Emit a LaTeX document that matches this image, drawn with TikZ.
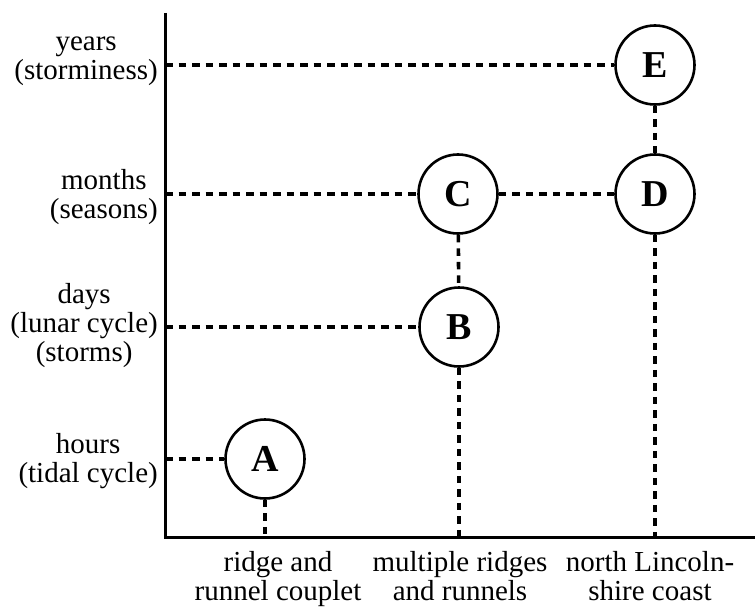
\documentclass[tikz,border=0pt]{standalone}
\usepackage{fontspec}
\setmainfont{Liberation Serif}
\usetikzlibrary{positioning}

\begin{document}
\begin{tikzpicture}[x=1pt,y=-1pt,
  site/.style={circle,draw,line width=2.6pt,minimum size=79pt,inner sep=0pt,font=\fontsize{38}{38}\selectfont\bfseries},
  link/.style={line width=3.6pt,dash pattern=on 7.5pt off 6pt},
  scale lab/.style={align=center,inner sep=0pt,font=\fontsize{29}{29}\selectfont}]
  \useasboundingbox (0,0) rectangle (755,610);
  \draw[line width=3pt] (165,13) -- (165,537) -- (755,537);
  \node[site] (E) at (655,65) {E};
  \node[site] (D) at (655,194) {D};
  \node[site] (C) at (458,194) {C};
  \node[site] (B) at (459,327) {B};
  \node[site] (A) at (265,459) {A};
  \coordinate (yE) at (165,65);
  \coordinate (yC) at (165,194);
  \coordinate (yB) at (165,327);
  \coordinate (yA) at (165,459);
  \coordinate (xA) at (265,537);
  \coordinate (xB) at (459,537);
  \coordinate (xD) at (655,537);
  \node[scale lab,anchor=east] (yrs) at (158,61) {years\\(storminess)};
  \node[scale lab,anchor=east] (mon) at (158,197) {months\\(seasons)};
  \node[scale lab,anchor=east] (dys) at (158,326) {days\\(lunar cycle)\\(storms)};
  \node[scale lab,anchor=east] (hrs) at (158,461) {hours\\(tidal cycle)};
  \node[scale lab,anchor=north] (rrc) at (278,551) {ridge and\\runnel couplet};
  \node[scale lab,anchor=north] (mrr) at (460,551) {multiple ridges\\and runnels};
  \node[scale lab,anchor=north] (nlc) at (650,551) {north Lincoln-\\shire coast};
  \draw[link] (yE) -- (E);
  \draw[link] (yC) -- (C);
  \draw[link] (C) -- (D);
  \draw[link] (E) -- (D);
  \draw[link] (yB) -- (B);
  \draw[link] (C) -- (B);
  \draw[link] (yA) -- (A);
  \draw[link] (A) -- (xA);
  \draw[link] (B) -- (xB);
  \draw[link] (D) -- (xD);
\end{tikzpicture}
\end{document}
